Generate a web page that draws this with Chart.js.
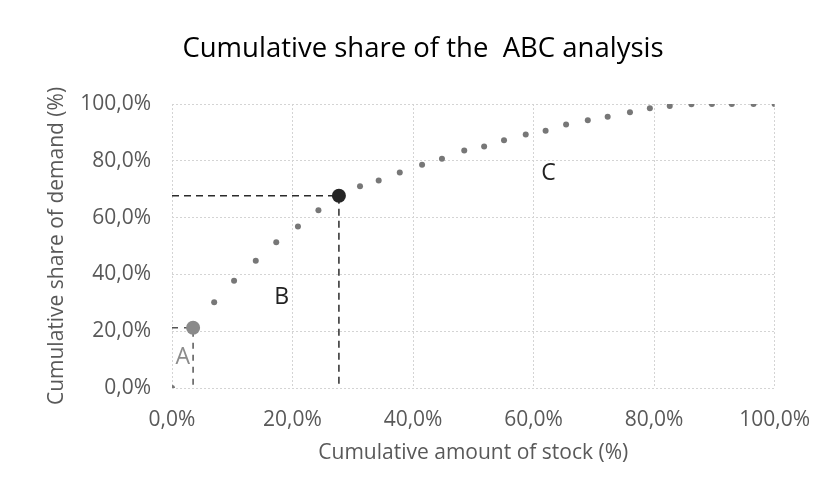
<!DOCTYPE html>
<html>
<head>
<meta charset="utf-8">
<title>ABC analysis</title>
<script src="https://cdn.jsdelivr.net/npm/chart.js@4.4.1/dist/chart.umd.min.js"></script>
<style>
  html, body { margin: 0; padding: 0; background: #ffffff; }
  #abcChart { display: block; }
</style>
</head>
<body>
<canvas id="abcChart" width="829" height="495"></canvas>
<script>
// cumulatieve aandeel voorraad (x) en vraag (y), in %
const stockShare  = [0, 3.5, 7.0, 10.3, 13.9, 17.3, 20.9, 24.3, 27.7, 31.2, 34.3, 37.8, 41.5, 44.8, 48.5,
                     51.8, 55.1, 58.7, 62.0, 65.4, 69.0, 72.3, 76.0, 79.3, 82.6, 86.2, 89.6, 92.9, 96.5, 100];
const demandShare = [0, 21.2, 30.2, 37.8, 44.8, 51.3, 56.9, 62.6, 67.7, 71.0, 73.1, 75.9, 78.6, 80.7, 83.6,
                     85.0, 87.2, 89.3, 90.6, 92.8, 94.3, 95.5, 97.1, 98.5, 99.3, 99.9, 100, 100, 100, 100];

// grenzen tussen de klassen A/B en B/C
const boundaryA = { x: 3.5, y: 21.2 };
const boundaryB = { x: 27.7, y: 67.7 };

// klasse-letters (positie in data-eenheden)
const classLetters = ['A', 'B', 'C'];
const letterX = [1.8, 18.2, 62.5];
const letterY = [10.6, 32.0, 75.7];
const letterColors = ['#8c8c8c', '#222222', '#222222'];

const xTicks = [0, 20, 40, 60, 80, 100];
const yTicks = [0, 20, 40, 60, 80, 100];

const chartTitle = 'Cumulative share of the  ABC analysis';

const FONT = '"Open Sans", "DejaVu Sans", sans-serif';

function pct(v) {
  return v.toFixed(1).replace('.', ',') + '%';
}

// titel en klasse-letters zelf tekenen
const letterPlugin = {
  id: 'classLetters',
  afterDatasetsDraw(chart) {
    const { ctx, scales } = chart;
    ctx.save();
    ctx.font = '23px ' + FONT;
    ctx.textAlign = 'center';
    ctx.textBaseline = 'middle';
    classLetters.forEach((t, i) => {
      ctx.fillStyle = letterColors[i];
      ctx.fillText(t, scales.x.getPixelForValue(letterX[i]), scales.y.getPixelForValue(letterY[i]));
    });
    ctx.fillStyle = '#000000';
    ctx.font = '27.5px ' + FONT;
    ctx.fillText(chartTitle, 423, 49);
    ctx.restore();
  }
};

const points = stockShare.map((x, i) => ({ x: x, y: demandShare[i] }));

const ctx = document.getElementById('abcChart').getContext('2d');
const chart = new Chart(ctx, {
  type: 'scatter',
  data: {
    datasets: [
      {
        label: 'A',
        data: [boundaryA],
        pointRadius: 7,
        pointBackgroundColor: '#8a8a8a',
        pointBorderWidth: 0,
        order: 0
      },
      {
        label: 'B',
        data: [boundaryB],
        pointRadius: 7,
        pointBackgroundColor: '#262626',
        pointBorderWidth: 0,
        order: 0
      },
      {
        label: 'Cumulative share',
        data: points,
        pointRadius: 3,
        pointBackgroundColor: '#777777',
        pointBorderWidth: 0,
        order: 1
      },
      {
        label: 'grens B',
        data: [{ x: 0, y: boundaryB.y }, boundaryB, { x: boundaryB.x, y: 0 }],
        showLine: true,
        borderColor: '#2b2b2b',
        borderWidth: 1.5,
        borderDash: [7, 5],
        pointRadius: 0,
        order: 2
      },
      {
        label: 'grens A',
        data: [{ x: 0, y: boundaryA.y }, boundaryA, { x: boundaryA.x, y: 0 }],
        showLine: true,
        borderColor: '#555555',
        borderWidth: 1.5,
        borderDash: [6, 6],
        pointRadius: 0,
        order: 2
      }
    ]
  },
  options: {
    responsive: false,
    animation: false,
    layout: { padding: { left: 0, right: 54, top: 104, bottom: 0 } },
    plugins: {
      legend: { display: false },
      tooltip: { enabled: false },
      title: { display: false }
    },
    scales: {
      x: {
        type: 'linear',
        min: 0,
        max: 100,
        afterBuildTicks: s => { s.ticks = xTicks.map(v => ({ value: v })); },
        afterFit: s => { s.height = 107; },
        ticks: {
          callback: v => pct(v),
          color: '#595959',
          font: { family: FONT, size: 21 },
          padding: 19
        },
        grid: { color: '#d4d4d4', lineWidth: 1, drawTicks: false },
        border: { display: false, dash: [2, 2] },
        title: {
          display: true,
          text: 'Cumulative amount of stock (%)',
          color: '#595959',
          font: { family: FONT, size: 21 },
          padding: { top: 0, bottom: 29.4 }
        }
      },
      y: {
        type: 'linear',
        min: 0,
        max: 100,
        afterBuildTicks: s => { s.ticks = yTicks.map(v => ({ value: v })); },
        afterFit: s => { s.width = 172; },
        ticks: {
          callback: v => pct(v),
          color: '#595959',
          font: { family: FONT, size: 21 },
          padding: 21
        },
        grid: { color: '#d4d4d4', lineWidth: 1, drawTicks: false },
        border: { display: false, dash: [2, 2] },
        title: {
          display: true,
          text: 'Cumulative share of demand (%)',
          color: '#595959',
          font: { family: FONT, size: 21 },
          padding: { top: 44.4, bottom: 0 }
        }
      }
    }
  },
  plugins: [letterPlugin]
});
</script>
</body>
</html>
